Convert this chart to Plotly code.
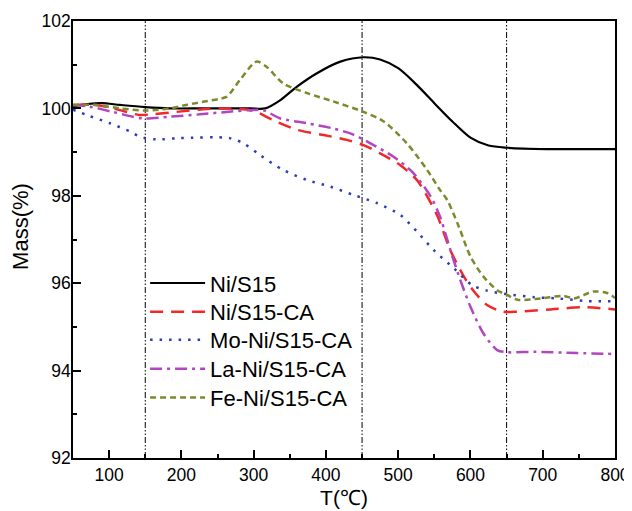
import plotly.graph_objects as go

# ---- data ----
ni_x = [50, 70, 90, 115, 150, 185, 230, 295, 316, 337, 360, 387, 420, 452, 475, 500, 525, 550, 575, 600, 625, 651, 706, 750, 800]
ni_y = [100.05, 100.10, 100.12, 100.08, 100.03, 100.00, 100.00, 100.00, 100.00, 100.19, 100.50, 100.80, 101.07, 101.17, 101.12, 100.92, 100.55, 100.12, 99.70, 99.33, 99.15, 99.10, 99.07, 99.07, 99.07]

nica_x = [50, 82, 115, 142, 161, 193, 230, 263, 295, 304, 327, 360, 397, 429, 452, 475, 503, 526, 538, 554, 572, 591, 605, 623, 644, 665, 711, 757, 800]
nica_y = [100.08, 100.08, 99.96, 99.85, 99.87, 99.92, 99.98, 100.00, 99.96, 99.92, 99.73, 99.51, 99.39, 99.28, 99.16, 98.97, 98.70, 98.36, 98.05, 97.55, 96.76, 96.15, 95.81, 95.50, 95.35, 95.35, 95.40, 95.45, 95.40]

mo_x = [50, 69, 101, 129, 143, 166, 198, 267, 286, 309, 341, 374, 406, 438, 471, 503, 526, 549, 577, 602, 623, 650, 688, 722, 762, 800]
mo_y = [99.97, 99.85, 99.66, 99.47, 99.35, 99.29, 99.32, 99.32, 99.20, 98.93, 98.59, 98.36, 98.21, 98.02, 97.83, 97.56, 97.18, 96.76, 96.34, 95.96, 95.83, 95.75, 95.68, 95.65, 95.59, 95.59]

la_x = [50, 73, 105, 147, 184, 230, 263, 295, 313, 337, 374, 410, 438, 466, 494, 521, 545, 558, 568, 575, 586, 600, 618, 637, 651, 688, 748, 800]
la_y = [100.08, 100.04, 99.92, 99.77, 99.81, 99.87, 99.92, 99.96, 99.96, 99.77, 99.66, 99.54, 99.40, 99.16, 98.89, 98.52, 97.98, 97.52, 96.99, 96.61, 96.07, 95.46, 94.85, 94.47, 94.42, 94.43, 94.40, 94.38]

fe_x = [50, 82, 115, 152, 184, 207, 230, 253, 263, 281, 304, 318, 341, 374, 410, 452, 480, 512, 540, 558, 568, 584, 600, 618, 637, 651, 665, 697, 729, 743, 770, 790, 800]
fe_y = [100.08, 100.08, 100.00, 99.95, 100.00, 100.08, 100.15, 100.22, 100.27, 100.65, 101.07, 100.95, 100.57, 100.35, 100.16, 99.92, 99.70, 99.20, 98.59, 98.13, 97.90, 97.29, 96.61, 96.15, 95.84, 95.73, 95.62, 95.65, 95.71, 95.65, 95.81, 95.77, 95.66]

vlines = [150, 450, 650]

series = [
    ("Ni/S15", ni_x, ni_y, "#000000", "solid", 2.2),
    ("Ni/S15-CA", nica_x, nica_y, "#f02828", "13px,8px", 2.5),
    ("Mo-Ni/S15-CA", mo_x, mo_y, "#2b3db5", "2.5px,7px", 2.5),
    ("La-Ni/S15-CA", la_x, la_y, "#b246c0", "12px,5px,3px,5px", 2.5),
    ("Fe-Ni/S15-CA", fe_x, fe_y, "#7b8a2c", "6px,4px", 2.5),
]

FONT = "Arial, Liberation Sans, sans-serif"
legend_ids = ["legend", "legend2", "legend3", "legend4", "legend5"]
legend_y = [0.400, 0.334, 0.270, 0.204, 0.138]

fig = go.Figure()
for (name, xs, ys, col, dash, w), lid in zip(series, legend_ids):
    fig.add_trace(go.Scatter(x=xs, y=ys, name=name, mode="lines", legend=lid,
                             line=dict(color=col, dash=dash, width=w, shape="spline", smoothing=0.8)))

for v in vlines:
    fig.add_shape(type="line", xref="x", yref="paper", x0=v, x1=v, y0=0, y1=1,
                  line=dict(color="#000000", width=1, dash="6px,2px,1.5px,2px,1.5px,2px"), layer="below")

layout_legends = {}
for lid, ly in zip(legend_ids, legend_y):
    layout_legends[lid] = dict(x=0.133, y=ly, xanchor="left", yanchor="middle",
                               font=dict(size=22, family=FONT, color="black"),
                               bgcolor="rgba(0,0,0,0)", itemwidth=55)

# page body has an 8px default margin, so margins are offset accordingly
fig.update_layout(
    width=632, height=511,
    margin=dict(l=65, r=25, t=13, b=61),
    plot_bgcolor="white", paper_bgcolor="white",
    font=dict(family=FONT, color="black"),
    showlegend=True,
    **layout_legends,
)
fig.add_annotation(text="Mass(%)", xref="paper", yref="paper", x=-0.096, y=0.531,
                   xanchor="center", yanchor="middle", textangle=-90, showarrow=False,
                   font=dict(size=22, family=FONT, color="black"))
fig.update_xaxes(range=[50, 800], tickvals=[100, 200, 300, 400, 500, 600, 700, 800],
                 ticks="inside", ticklen=8, tickwidth=1.5, tickcolor="black",
                 minor=dict(tickvals=[150, 250, 350, 450, 550, 650, 750], ticks="inside", ticklen=4, tickwidth=1.5, tickcolor="black"),
                 showline=True, linecolor="black", linewidth=1.5, mirror=True,
                 showgrid=False, zeroline=False, tickfont=dict(size=17.5),
                 automargin=False,
                 title=dict(text="T(℃)", font=dict(size=21), standoff=7))
fig.update_yaxes(range=[92, 102], tickvals=[92, 94, 96, 98, 100, 102],
                 ticks="inside", ticklen=8, tickwidth=1.5, tickcolor="black",
                 minor=dict(tickvals=[93, 95, 97, 99, 101], ticks="inside", ticklen=4, tickwidth=1.5, tickcolor="black"),
                 showline=True, linecolor="black", linewidth=1.5, mirror=True,
                 showgrid=False, zeroline=False, tickfont=dict(size=17.5), ticklabelstandoff=-3,
                 automargin=False)

fig.write_html("out.html")
